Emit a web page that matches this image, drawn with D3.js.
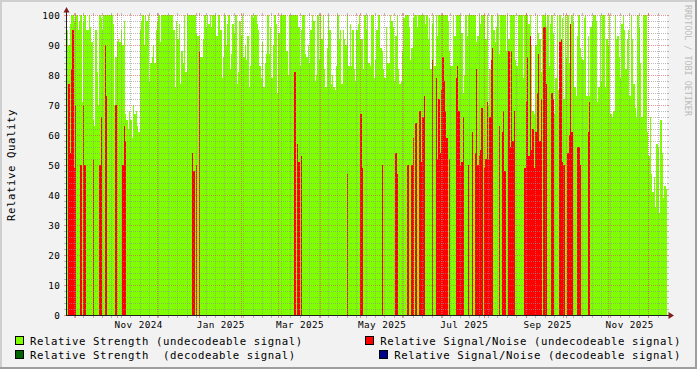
<!DOCTYPE html>
<meta charset="utf-8">
<style>
body { margin: 0; background: #f2f2f2; }
svg { display: block; }
text { font-family: "DejaVu Sans Mono", monospace; }
</style>
<script src="https://cdn.jsdelivr.net/npm/d3@7"></script>
<body>
<script>

// one value per day, starting at startDay
var startDay = "2024-09-25";

// Relative Strength (undecodeable signal)
var strength = [
  95,90,97,100,100,98,100,100,95,98,100,71,98,100,95,95,100,96,91,65,
  63,95,81,70,100,99,95,100,100,100,100,100,100,100,97,70,86,91,92,91,
  95,90,98,67,65,62,68,65,59,70,67,68,63,61,95,98,100,90,100,98,
  100,78,84,86,90,84,95,98,100,91,100,100,100,100,100,100,100,100,100,95,
  76,98,92,97,77,88,84,100,81,100,100,100,100,100,100,100,94,93,93,86,
  86,92,100,96,100,97,100,96,100,100,100,93,100,100,95,79,86,100,90,97,
  100,82,87,97,94,100,77,81,98,93,100,86,90,85,93,76,83,100,99,100,
  100,97,95,83,79,91,76,84,87,100,87,96,79,90,100,97,74,94,100,100,
  100,100,100,88,80,100,100,100,100,100,100,100,96,83,95,100,100,87,86,90,
  84,95,100,98,78,80,100,85,100,92,100,82,76,89,100,95,77,80,76,75,
  83,100,92,95,77,95,92,90,100,83,97,83,95,82,78,95,97,100,92,92,
  82,100,95,100,84,83,100,100,79,85,95,100,100,89,88,82,79,96,84,84,
  100,98,96,78,93,100,82,77,78,88,99,100,100,100,96,85,89,99,100,100,
  96,100,100,100,100,100,97,100,92,99,82,97,100,83,100,93,100,100,100,100,
  100,100,100,98,88,83,83,100,93,100,100,100,100,94,74,80,100,93,100,100,
  100,100,100,100,91,93,100,97,100,100,100,92,100,70,82,100,100,95,91,96,
  100,87,100,100,100,100,88,100,92,100,100,100,100,85,83,100,100,100,100,79,
  100,100,100,97,100,90,68,67,90,100,94,92,81,100,100,100,96,100,83,97,
  100,94,67,79,100,75,100,92,99,72,100,86,100,84,97,100,98,76,73,93,
  100,89,86,85,99,100,73,93,73,96,98,100,100,98,71,76,100,78,100,100,
  76,92,90,100,67,66,68,100,92,93,86,79,97,100,95,82,92,95,73,100,
  92,77,69,66,100,96,84,66,100,100,100,61,53,66,47,41,46,36,57,56,
  34,65,54,39,43,42
];

// Relative Signal/Noise (undecodeable signal): day index and value, other days 0
var snDays = [1,2,3,4,5,6,10,12,13,19,24,25,28,29,36,41,42,43,93,94,96,98,
  169,171,172,174,208,218,219,234,244,245,253,256,257,259,262,263,264,265,
  271,274,275,276,277,278,279,280,281,282,284,289,290,291,292,293,294,298,301,
  303,304,305,306,307,308,310,311,312,313,314,315,316,321,323,324,325,
  328,329,330,331,332,340,341,342,343,344,345,346,347,348,349,350,351,352,
  354,355,356,360,361,366,367,368,369,372,373,374,375,379,380,381,387,388];
var snValues = [77,54,82,95,49,70,50,70,50,52,50,66,90,73,70,50,63,58,54,48,50,88,
  81,57,51,53,47,67,49,50,54,47,50,50,59,64,68,51,66,73,
  85,79,52,72,54,75,86,78,68,59,52,79,83,68,50,51,66,50,61,
  54,82,50,53,55,69,49,52,71,52,66,85,89,63,61,68,48,
  88,56,88,58,68,49,71,86,53,93,55,62,49,61,74,87,58,72,
  96,96,77,74,72,91,92,51,50,54,60,97,61,56,56,50,61,71];

var yTicks = [0,10,20,30,40,50,60,70,80,90,100];
var labelMonths = ["2024-11","2025-01","2025-03","2025-05","2025-07","2025-09","2025-11"];

var legendNames = ["Relative Strength (undecodeable signal)",
                   "Relative Signal/Noise (undecodeable signal)",
                   "Relative Strength  (decodeable signal)",
                   "Relative Signal/Noise (decodeable signal)"];
var legendColors = ["#7fff00", "#ff0000", "#006400", "#00008b"];

var w = 697, h = 369;
var plotL = 67, plotR = 667, plotT = 15, plotB = 315;

var t0 = d3.utcParse("%Y-%m-%d")(startDay);
var tEnd = d3.utcDay.offset(t0, strength.length);

var x = d3.scaleUtc().domain([t0, tEnd]).range([plotL, plotR]);
var y = d3.scaleLinear().domain([0, 100]).range([plotB, plotT]);

var svg = d3.select("body").append("svg")
  .attr("width", w)
  .attr("height", h);

svg.append("rect").attr("width", w).attr("height", h).attr("fill", "#f2f2f2");
// 3d frame
svg.append("rect").attr("x", 0).attr("y", 0).attr("width", w).attr("height", 2).attr("fill", "#cfcfcf");
svg.append("rect").attr("x", 0).attr("y", 0).attr("width", 2).attr("height", h).attr("fill", "#cfcfcf");
svg.append("rect").attr("x", w - 2).attr("y", 0).attr("width", 2).attr("height", h).attr("fill", "#9e9e9e");
svg.append("rect").attr("x", 0).attr("y", h - 2).attr("width", w).attr("height", 2).attr("fill", "#9e9e9e");

// canvas
svg.append("rect")
  .attr("x", plotL).attr("y", plotT)
  .attr("width", plotR - plotL).attr("height", plotB - plotT)
  .attr("fill", "#ffffff");

// strength area
var steps = strength.map(function(v, i) { return {t: d3.utcDay.offset(t0, i), v: v}; });
steps.push({t: tEnd, v: strength[strength.length - 1]});

var area = d3.area()
  .x(function(d) { return x(d.t); })
  .y0(plotB)
  .y1(function(d) { return y(d.v); })
  .curve(d3.curveStepAfter);

svg.append("path")
  .datum(steps)
  .attr("d", area)
  .attr("fill", legendColors[0])
  .attr("shape-rendering", "crispEdges");

// signal/noise bars
svg.selectAll("rect.sn")
  .data(snDays)
  .enter()
  .append("rect")
  .attr("class", "sn")
  .attr("x", function(d) { return x(d3.utcDay.offset(t0, d)); })
  .attr("width", function(d) { return x(d3.utcDay.offset(t0, d + 1)) - x(d3.utcDay.offset(t0, d)); })
  .attr("y", function(d, i) { return y(snValues[i]); })
  .attr("height", function(d, i) { return plotB - y(snValues[i]); })
  .attr("fill", legendColors[1])
  .attr("shape-rendering", "crispEdges");

// grid
var minorCol = "rgba(143,143,143,0.6)";
var majorCol = "rgba(222,79,79,0.6)";
var grid = svg.append("g").attr("shape-rendering", "crispEdges");

function vline(t, col) {
  var xi = Math.round(x(t)) + 0.5;
  grid.append("line").attr("x1", xi).attr("x2", xi).attr("y1", plotT - 2).attr("y2", plotT)
    .attr("stroke", col);
  grid.append("line").attr("x1", xi).attr("x2", xi).attr("y1", plotB + 1).attr("y2", plotB + 3)
    .attr("stroke", col);
  grid.append("line").attr("x1", xi).attr("x2", xi).attr("y1", plotT).attr("y2", plotB)
    .attr("stroke", col).attr("stroke-dasharray", "1,1");
}
function hline(v, col) {
  var yi = Math.round(y(v)) + 0.5;
  grid.append("line").attr("x1", plotL - 3).attr("x2", plotL - 1).attr("y1", yi).attr("y2", yi)
    .attr("stroke", col);
  grid.append("line").attr("x1", plotR).attr("x2", plotR + 2).attr("y1", yi).attr("y2", yi)
    .attr("stroke", col);
  grid.append("line").attr("x1", plotL).attr("x2", plotR).attr("y1", yi).attr("y2", yi)
    .attr("stroke", col).attr("stroke-dasharray", "1,1");
}

d3.utcMonday.range(t0, tEnd).forEach(function(t) { vline(t, minorCol); });
y.ticks(50).forEach(function(v) { if (v % 10 != 0) hline(v, minorCol); });
d3.utcMonth.range(t0, tEnd).forEach(function(t) { vline(t, majorCol); });
yTicks.forEach(function(v) { hline(v, majorCol); });

// axes
svg.append("line").attr("x1", plotL - 1).attr("x2", plotR + 5).attr("y1", plotB + 0.5).attr("y2", plotB + 0.5)
  .attr("stroke", "#1f1f1f").attr("shape-rendering", "crispEdges");
svg.append("line").attr("x1", plotL - 0.5).attr("x2", plotL - 0.5).attr("y1", plotB + 1).attr("y2", plotT - 4)
  .attr("stroke", "#1f1f1f").attr("shape-rendering", "crispEdges");
svg.append("path").attr("d", "M668.5,312 L674,315.5 L668.5,319 Z").attr("fill", "#7f1f1f");
svg.append("path").attr("d", "M63.5,12.5 L66.5,7 L69.5,12.5 Z").attr("fill", "#7f1f1f");

// tick labels
svg.selectAll("text.ylab")
  .data(yTicks)
  .enter()
  .append("text")
  .attr("class", "ylab")
  .attr("x", 60.4)
  .attr("y", function(d) { return y(d) + 4; })
  .attr("text-anchor", "end")
  .attr("font-size", "9.33px")
  .attr("letter-spacing", "0.4px")
  .attr("fill", "#000")
  .text(function(d) { return d; });

var parseMonth = d3.utcParse("%Y-%m");
var fmt = d3.utcFormat("%b %Y");
svg.selectAll("text.xlab")
  .data(labelMonths)
  .enter()
  .append("text")
  .attr("class", "xlab")
  .attr("x", function(d) { return x(d3.utcHour.offset(parseMonth(d), 16 * 24 + 6)); })
  .attr("y", 328)
  .attr("text-anchor", "middle")
  .attr("font-size", "9.33px")
  .attr("letter-spacing", "0.4px")
  .attr("fill", "#000")
  .text(function(d) { return fmt(parseMonth(d)); });

// vertical title
svg.append("text")
  .attr("transform", "translate(15," + ((plotT + plotB) / 2) + ") rotate(-90)")
  .attr("text-anchor", "middle")
  .attr("font-size", "10.67px")
  .attr("letter-spacing", "0.58px")
  .attr("fill", "#000")
  .text("Relative Quality");

// watermark
svg.append("text")
  .attr("transform", "translate(685,5) rotate(90)")
  .attr("font-size", "8.4px")
  .attr("fill", "#bcbcbc")
  .text("RRDTOOL / TOBI OETIKER");

// legend: left column starts at 30, right column ends at 681
var legendPos = [
  {row: 0, side: "left"}, {row: 0, side: "right"},
  {row: 1, side: "left"}, {row: 1, side: "right"}
];
legendNames.forEach(function(name, i) {
  var p = legendPos[i];
  var base = 345 + p.row * 14;
  var t = svg.append("text")
    .attr("y", base)
    .attr("font-size", "10.67px")
    .attr("letter-spacing", "0.58px")
    .attr("fill", "#000")
    .style("white-space", "pre")
    .text(name);
  var tx = 30;
  if (p.side == "right") {
    tx = 681 - t.node().getComputedTextLength();
  }
  t.attr("x", tx);
  svg.append("rect")
    .attr("x", Math.round(tx - 15) + 0.5)
    .attr("y", base - 8.5)
    .attr("width", 8)
    .attr("height", 8)
    .attr("fill", legendColors[i])
    .attr("stroke", "#000")
    .attr("shape-rendering", "crispEdges");
});

</script>
